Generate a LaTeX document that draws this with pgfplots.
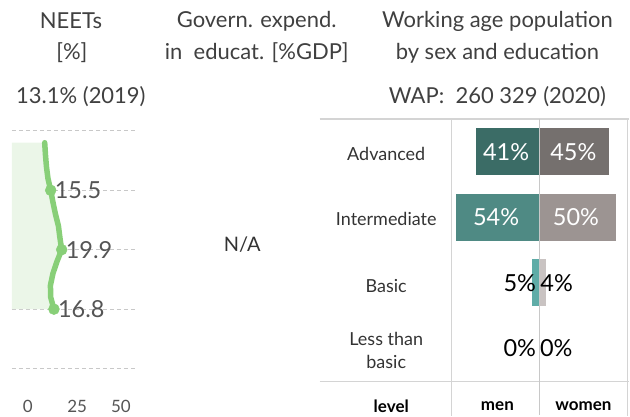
\documentclass[border=0pt]{standalone}
\usepackage{pgfplots}
\pgfplotsset{compat=1.18}
\usepackage{fontspec}
\setmainfont{Lato}
\definecolor{ttl}{HTML}{404040}
\definecolor{lbl}{HTML}{333333}
\definecolor{tick}{HTML}{555555}
\definecolor{ngreen}{HTML}{88CF78}
\definecolor{nshade}{HTML}{EBF6E8}
\definecolor{gridc}{HTML}{C8C8C8}
\definecolor{tline}{HTML}{D4D4D4}
\definecolor{madv}{HTML}{3B6C66}
\definecolor{mint}{HTML}{4F8A84}
\definecolor{mbas}{HTML}{5FACA7}
\definecolor{wadv}{HTML}{75706E}
\definecolor{wint}{HTML}{9C9492}
\definecolor{wbas}{HTML}{C9C3C2}
\newcommand{\fs}[1]{\fontsize{#1}{#1}\selectfont}
\begin{document}
\begin{tikzpicture}[x=1pt,y=1pt]
\path (0,0) rectangle (630,-416);
% titles
\node[text=ttl, font=\fs{22}] at (71,-21) {NEETs};
\node[text=ttl, font=\fs{22}] at (72,-53) {[\%]};
\node[text=ttl, font=\fs{22}] at (81,-97) {13.1\% (2019)};
\node[text=ttl, font=\fs{22}] at (257,-21) {Govern. expend.};
\node[text=ttl, font=\fs{22}] at (257,-53) {in\ \ educat. [\%GDP]};
\node[text=ttl, font=\fs{22}] at (498,-21) {Working age population};
\node[text=ttl, font=\fs{22}] at (498,-53) {by sex and education};
\node[text=ttl, font=\fs{22}] at (498,-97) {WAP:\ \ 260 329 (2020)};
\node[text=lbl, font=\fs{20}] at (242.5,-245) {N/A};

% NEETs panel
\begin{axis}[at={(12pt,-131pt)}, anchor=north west, scale only axis,
  width=125pt, height=238pt, xmin=0, xmax=50, ymin=2000, ymax=2020,
  axis line style={draw=none}, major tick length=0pt,
  ytick={2000,2005,...,2020}, yticklabels={},
  ymajorgrids, grid style={gridc, line width=0.9pt, dash pattern=on 4pt off 3pt},
  xtick={6.3,26.1,43.6}, xticklabels={0,25,50},
  xticklabel style={font=\fs{17}, text=tick, anchor=center, yshift=-38pt},
  clip=false]
\addplot[draw=none, fill=nshade] coordinates {
  (0,2019) (13.1,2019) (13.4,2018) (13.8,2017) (14.4,2016) (15.5,2015)
  (16.4,2014) (17.4,2013) (18.6,2012) (19.2,2011) (19.9,2010)
  (18.0,2009) (16.4,2008) (15.4,2007) (15.5,2006) (16.8,2005) (0,2005)} -- cycle;
\addplot[ngreen, line width=5.5pt, line join=round, line cap=round] coordinates {
  (13.1,2019) (13.4,2018) (13.8,2017) (14.4,2016) (15.5,2015)
  (16.4,2014) (17.4,2013) (18.6,2012) (19.2,2011) (19.9,2010)
  (18.0,2009) (16.4,2008) (15.4,2007) (15.5,2006) (16.8,2005)};
\addplot[only marks, mark=*, mark size=5.5pt, color=ngreen,
  point meta=explicit symbolic, nodes near coords,
  every node near coord/.style={anchor=west, font=\fs{23.5}, text=tick, inner sep=1pt, xshift=3pt}]
  coordinates {(15.5,2015) [15.5] (19.9,2010) [19.9] (16.8,2005) [16.8]};
\end{axis}

% table lines
\draw[tline, line width=1.5pt] (320,-119) -- (630,-119);
\draw[tline, line width=1.5pt] (320,-381.7) -- (630,-381.7);
\draw[tline, line width=1.5pt] (452,-119) -- (452,-416);
\draw[tline, line width=1.5pt] (628,-119) -- (628,-416);

% row labels
\node[text=lbl, font=\fs{18}] at (386.7,-154.3) {Advanced};
\node[text=lbl, font=\fs{18}] at (386.7,-219.3) {Intermediate};
\node[text=lbl, font=\fs{18}] at (386.7,-286.7) {Basic};
\node[text=lbl, font=\fs{18}, align=center] at (386.7,-351) {Less than\\[5pt]basic};
\node[text=black, font=\bfseries\fs{17}] at (391.7,-406.7) {level};
\node[text=black, font=\bfseries\fs{17}] at (498,-406.7) {men};
\node[text=black, font=\bfseries\fs{17}] at (584,-406.7) {women};

% bars
\begin{axis}[at={(452pt,-119pt)}, anchor=north west, scale only axis,
  width=176pt, height=262.7pt, xmin=-57.14, xmax=57.14, ymin=-0.5, ymax=3.5,
  hide axis, clip=false]
\addplot[xbar, bar shift=0pt, bar width=0.72, fill=madv, draw=none] coordinates {(-41,3)};
\addplot[xbar, bar shift=0pt, bar width=0.72, fill=mint, draw=none] coordinates {(-54,2)};
\addplot[xbar, bar shift=0pt, bar width=0.72, fill=mbas, draw=none] coordinates {(-5,1)};
\addplot[xbar, bar shift=0pt, bar width=0.72, fill=mbas, draw=none] coordinates {(0,0)};
\addplot[xbar, bar shift=0pt, bar width=0.72, fill=wadv, draw=none] coordinates {(45,3)};
\addplot[xbar, bar shift=0pt, bar width=0.72, fill=wint, draw=none] coordinates {(50,2)};
\addplot[xbar, bar shift=0pt, bar width=0.72, fill=wbas, draw=none] coordinates {(4,1)};
\addplot[xbar, bar shift=0pt, bar width=0.72, fill=wbas, draw=none] coordinates {(0,0)};
\draw[gridc, line width=1.5pt] (axis cs:0,3.5) -- (axis cs:0,-1.02);
\node[white, font=\fs{23.5}] at (axis cs:-21.6,3) {41\%};
\node[white, font=\fs{23.5}] at (axis cs:-28.1,2) {54\%};
\node[black, font=\fs{23.5}, anchor=east, inner sep=0pt] at (axis cs:-2.1,1) {5\%};
\node[black, font=\fs{23.5}, anchor=east, inner sep=0pt] at (axis cs:-2.1,0) {0\%};
\node[white, font=\fs{23.5}] at (axis cs:22.1,3) {45\%};
\node[white, font=\fs{23.5}] at (axis cs:23.8,2) {50\%};
\node[black, font=\fs{23.5}, anchor=west, inner sep=0pt] at (axis cs:0.6,1) {4\%};
\node[black, font=\fs{23.5}, anchor=west, inner sep=0pt] at (axis cs:0.3,0) {0\%};
\end{axis}
\end{tikzpicture}
\end{document}
